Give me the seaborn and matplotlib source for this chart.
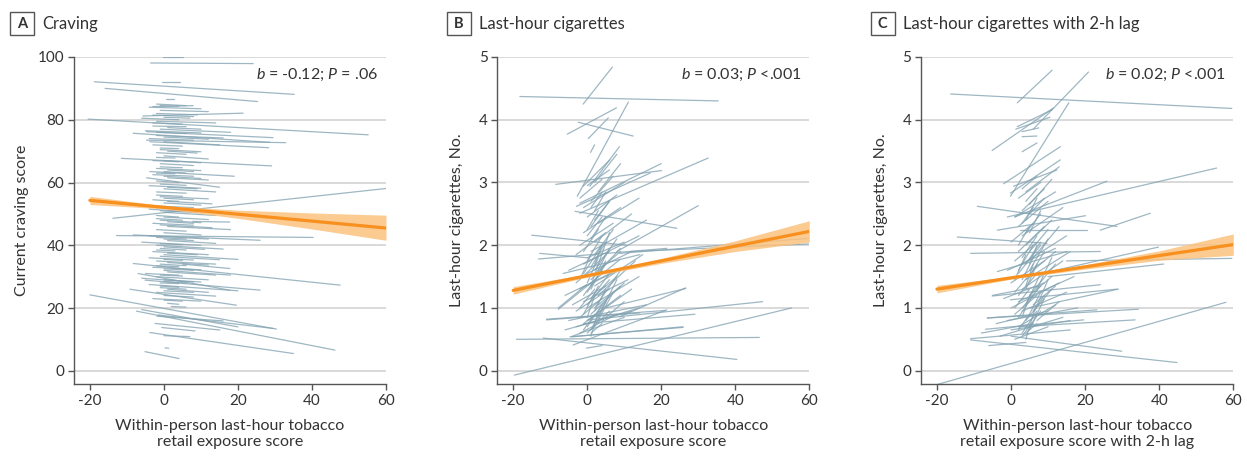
import pandas as pd
import seaborn as sns
import matplotlib.pyplot as plt
from matplotlib.patches import Rectangle

# person-level fitted segments: (x start, y start, x end, y end)
segs_craving = [
    (-0.3, 100, 5.1, 100), (-3.6, 98.1, 24.1, 97.9), (-18.8, 92.1, 35.2, 88.1),
    (-15.9, 90.0, 25.3, 85.8), (-0.6, 92.1, 4.3, 92.1), (0.5, 86.6, 2.6, 86.6),
    (-3.0, 84.2, 7.9, 84.5), (-20.5, 80.2, 55.2, 75.2), (-5.7, 81.2, 21.4, 82.1),
    (-4.7, 76.2, 29.5, 74.3), (-8.3, 75.7, 28.6, 72.8), (-4.7, 73.5, 32.9, 72.7),
    (-3.8, 73.0, 28.3, 71.1), (-11.5, 67.7, 29.1, 65.3), (-3.8, 63.5, 19.0, 62.0),
    (-4.7, 61.5, 15.0, 58.5), (-13.8, 48.6, 60.0, 58.1), (-12.8, 43.1, 40.3, 42.5),
    (-8.3, 43.3, 26.0, 41.6), (-8.3, 34.2, 47.6, 27.3), (-7.0, 31.0, 17.8, 25.7),
    (-9.2, 26.0, 19.6, 20.9), (-5.1, 28.9, 26.0, 25.7), (-20.0, 24.2, 30.4, 13.3),
    (-7.4, 19.0, 46.2, 6.6), (-1.5, 17.8, 29.5, 13.5), (-6.0, 19.5, 20.0, 14.0),
    (-1.9, 17.4, 16.0, 15.9), (-2.4, 15.1, 15.1, 13.0), (-0.6, 13.8, 8.4, 12.7),
    (0.0, 11.2, 7.0, 10.9), (-3.8, 12.2, 35.0, 5.5), (-5.1, 6.1, 4.1, 3.9),
    (0.3, 7.3, 1.3, 7.2), (7.8, 47.6, 17.8, 47.4), (5.0, 34.0, 17.8, 32.6),
    (-2, 85, 6, 84.5), (-4, 84, 10, 83.5), (-1, 83, 12, 82.6), (-3, 81.5, 8, 81),
    (-6, 80.5, 4, 80), (-2, 79.5, 14, 79), (-3, 78, 6, 77.8), (-1, 77, 18, 76),
    (-5, 76.5, 10, 75.8), (-2, 75, 16, 74.2), (-4, 74, 8, 73.5), (0, 73, 15, 72),
    (-3, 72, 5, 71.6), (-1, 70.5, 10, 69.8), (-2, 69.5, 6, 69), (0, 68.5, 12, 67.5),
    (-3, 67, 4, 66.6), (-1, 66, 8, 65.4), (-2, 64.5, 10, 63.8), (0, 63.5, 6, 63),
    (-3, 62.5, 8, 62), (1, 61.5, 12, 60.8), (-2, 60.5, 4, 60), (-4, 59, 10, 58.2),
    (0, 58, 14, 57), (-2, 57, 6, 56.6), (-1, 55.5, 12, 54.8), (-3, 54.5, 4, 54),
    (0, 53.5, 10, 52.8), (-2, 52.5, 8, 52), (-4, 51.5, 6, 50.8), (0, 50.5, 14, 49.5),
    (-2, 49.5, 4, 49), (-1, 48, 10, 47.2), (-3, 47, 8, 46.4), (1, 46, 18, 45),
    (-2, 45, 6, 44.5), (-4, 43, 12, 42), (0, 42, 8, 41.5), (-6, 41, 10, 40),
    (-2, 40, 16, 38.8), (-1, 39, 6, 38.5), (-3, 38, 12, 37), (0, 37, 20, 35.5),
    (-4, 36, 8, 35.3), (-2, 35, 14, 34), (-1, 34, 6, 33.5), (-3, 33, 10, 32.2),
    (0, 32, 18, 30.5), (-5, 31, 4, 30.5), (-2, 30, 12, 29), (-6, 29.5, 8, 28.3),
    (0, 28.5, 6, 28), (-4, 27.5, 20, 25.5), (-1, 27, 4, 26.6), (-2, 25, 14, 23.8),
    (0, 24, 8, 23.5), (-3, 23, 10, 22.2), (1, 21.5, 4, 21.2), (2, 20.5, 6, 20.3),
    (-1, 84.5, 4, 84.3), (-2, 82, 9, 81.6), (0, 80.8, 7, 80.5), (-3, 79, 5, 78.6),
    (1, 77.5, 10, 77), (-2, 76, 6, 75.6), (0, 74.5, 12, 73.8), (-1, 71, 4, 70.8),
    (1, 70, 9, 69.4), (-2, 68, 3, 67.8), (0, 67, 10, 66.3), (-1, 65, 5, 64.7),
    (1, 64, 8, 63.5), (-2, 63, 3, 62.8), (0, 62, 10, 61.3), (-1, 59.5, 6, 59.1),
    (1, 58.5, 9, 58), (-2, 56, 5, 55.6), (0, 55, 8, 54.5), (1, 54, 13, 53.2),
    (-1, 51, 9, 50.4), (0, 49, 12, 48.2), (-2, 48.5, 5, 48), (1, 47.5, 8, 47),
    (-1, 46.5, 13, 45.6), (0, 44, 10, 43.3), (-2, 42.5, 6, 42), (1, 41.5, 14, 40.6),
    (-1, 40.5, 5, 40.2), (0, 39.5, 11, 38.7), (-2, 38.5, 3, 38.2), (1, 37.5, 9, 37),
    (-1, 36.5, 15, 35.4), (0, 35.5, 5, 35.2), (1, 34.5, 12, 33.7), (-2, 33.5, 4, 33.2),
    (0, 32.5, 8, 32), (1, 31.5, 14, 30.5), (-1, 30.5, 5, 30.2), (0, 29, 10, 28.3),
    (-1, 28, 4, 27.8), (1, 26, 12, 25), (-1, 26.5, 6, 26), (0, 25.5, 8, 25),
    (0, 22.5, 5, 22.2),
]

segs_cigs = [
    (-18.2, 4.37, 35.4, 4.30), (-1.1, 4.25, 6.8, 4.84), (-2.7, 2.78, 11.1, 4.28),
    (-5.4, 3.77, 7.9, 4.19), (-2.4, 3.96, 12.4, 3.74), (0.3, 3.70, 5.7, 4.03),
    (0.9, 3.48, 2.0, 3.60), (0.7, 2.94, 8.7, 3.57), (-8.5, 2.97, 20.1, 3.19),
    (-2.0, 2.51, 32.7, 3.39), (-2.9, 2.62, 17.0, 3.15), (8.0, 1.90, 30.0, 2.63),
    (-3.3, 2.54, 24.2, 2.27), (-1.1, 2.94, 6.1, 3.36), (-2.0, 2.67, 20.0, 3.30),
    (-19.7, -0.07, 55.2, 1.00), (-19.1, 0.50, 46.5, 0.53), (0.3, 0.81, 47.4, 1.10),
    (-11.9, 0.52, 40.4, 0.18), (-15.0, 2.16, 10.6, 2.00), (-13.2, 1.78, 21.5, 1.95),
    (8.8, 0.86, 26.6, 1.32), (-4.7, 0.54, 25.9, 0.69), (-7.8, 0.98, 8.8, 1.77),
    (-11.0, 0.82, 21.0, 0.96), (-1.0, 0.75, 29.1, 0.90), (8.8, 1.87, 60.0, 2.11),
    (12.0, 1.90, 60.0, 2.02), (-11.0, 0.81, 14.2, 0.92), (-7.8, 1.00, -0.2, 1.37),
    (-6.5, 1.55, 14.2, 1.85), (-3.8, 0.41, 21.5, 0.97), (-0.2, 0.36, 4.0, 0.40),
    (-4.2, 0.54, 25.9, 0.70), (5.0, 1.00, 26.6, 1.31), (-12.8, 1.87, 0.0, 1.80),
    (-4, 0.55, 10, 0.85), (-2, 0.6, 8, 0.9), (-6, 0.65, 12, 0.95), (0, 0.6, 6, 0.95),
    (-3, 0.7, 14, 1.0), (1, 0.65, 5, 1.1), (-1, 0.75, 9, 1.2), (-5, 0.8, 16, 1.05),
    (2, 0.7, 7, 1.25), (0, 0.8, 12, 1.3), (-2, 0.85, 4, 1.15), (1, 0.9, 10, 1.4),
    (-3, 0.95, 6, 1.3), (3, 0.85, 8, 1.45), (0, 1.0, 14, 1.5), (-4, 1.05, 5, 1.35),
    (2, 1.0, 9, 1.6), (-1, 1.1, 11, 1.45), (1, 1.15, 6, 1.55), (-6, 1.2, 8, 1.6),
    (3, 1.2, 13, 1.75), (0, 1.25, 5, 1.7), (-2, 1.3, 10, 1.65), (2, 1.35, 15, 1.85),
    (-3, 1.4, 6, 1.9), (1, 1.45, 9, 1.95), (0, 1.55, 12, 1.9), (-5, 1.6, 4, 1.85),
    (2, 1.6, 8, 2.1), (-1, 1.7, 14, 2.15), (3, 1.7, 6, 2.2), (0, 1.8, 10, 2.05),
    (-3, 1.85, 5, 2.2), (1, 1.9, 16, 2.4), (-2, 2.0, 7, 2.35), (2, 2.05, 12, 2.5),
    (0, 2.15, 4, 2.45), (-1, 2.2, 9, 2.6), (1, 2.3, 6, 2.7), (3, 2.35, 14, 2.75),
    (0, 2.45, 8, 2.8), (2, 2.55, 5, 2.85), (-1, 2.6, 10, 3.0), (1, 2.7, 7, 3.1),
    (3, 2.85, 9, 3.3), (0, 2.95, 6, 3.2), (2, 3.0, 8, 3.45), (-2, 2.75, 4, 3.05),
    (0, 0.7, 4, 1.05), (1, 0.55, 3, 0.95), (-1, 0.9, 3, 1.35), (0, 1.05, 6, 1.45),
    (2, 0.95, 5, 1.3), (-1, 1.2, 4, 1.6), (1, 1.3, 5, 1.75), (0, 1.4, 3, 1.8),
    (2, 1.5, 6, 1.95), (-1, 1.55, 4, 2.0), (1, 1.65, 5, 2.05), (0, 1.75, 4, 2.15),
    (2, 1.85, 7, 2.25), (-1, 1.9, 3, 2.25), (1, 2.1, 5, 2.45), (0, 2.25, 3, 2.55),
    (2, 2.4, 6, 2.7), (1, 2.6, 4, 2.85), (3, 1.05, 9, 1.35), (4, 0.8, 10, 1.1),
    (2, 1.2, 8, 1.5), (-2, 1.0, 2, 1.3), (3, 1.6, 9, 1.9), (-2, 1.45, 1, 1.85),
    (1, 0.6, 4, 0.75), (0, 0.85, 2, 1.2), (3, 0.95, 6, 1.2), (1, 1.35, 3, 1.7),
    (-1, 0.65, 2, 0.9), (2, 1.7, 4, 2.0),
]

segs_lag = [
    (-16.3, 4.41, 59.6, 4.18), (1.7, 4.27, 11.1, 4.79), (-5.1, 3.51, 11.5, 4.19),
    (6.0, 3.85, 20.9, 4.76), (-0.15, 2.78, 15.6, 4.27), (-1.0, 2.45, 55.5, 3.23),
    (-9.1, 2.62, 28.6, 2.30), (1.0, 2.45, 25.9, 3.02), (24.1, 2.24, 37.6, 2.51),
    (-3.7, 2.24, 20.1, 2.47), (-19.9, -0.22, 58.0, 1.09), (-10.9, 0.49, 44.8, 0.13),
    (-14.5, 2.13, 9.7, 2.03), (-10.9, 1.87, 24.1, 1.90), (15.0, 1.75, 59.6, 1.79),
    (10.0, 1.50, 41.2, 1.70), (12.0, 1.60, 39.8, 1.97), (-6.4, 0.84, 34.4, 0.98),
    (2.0, 0.70, 33.5, 0.81), (0.0, 0.55, 29.9, 0.31), (5.0, 1.00, 29.0, 1.30),
    (3.0, 3.73, 7.0, 3.74), (3.0, 3.81, 7.5, 3.87), (3.0, 3.49, 7.0, 3.63),
    (1.7, 3.89, 11.1, 4.16), (1.3, 3.85, 10.5, 4.04), (-2.0, 2.98, 13.3, 3.57),
    (-0.15, 2.83, 13.3, 3.36), (0.7, 2.94, 12.4, 3.20), (-3.7, 1.58, 15.1, 1.90),
    (-5.1, 1.19, 24.1, 1.37), (-10.9, 0.51, 16.0, 0.65), (-6.9, 0.66, 19.6, 0.81),
    (-6.4, 0.84, 23.2, 0.97), (-0.15, 1.13, 28.6, 1.30), (2.5, 2.24, 20.5, 2.24),
    (1, 0.5, 10, 0.7), (-3, 0.55, 14, 0.85), (3, 0.55, 8, 0.95), (0, 0.65, 16, 0.8),
    (2, 0.7, 12, 1.05), (5, 0.65, 9, 1.15), (-1, 0.8, 18, 1.0), (4, 0.8, 11, 1.3),
    (1, 0.9, 7, 1.2), (3, 0.95, 15, 1.25), (6, 0.9, 10, 1.45), (0, 1.0, 13, 1.4),
    (4, 1.05, 8, 1.55), (2, 1.1, 17, 1.5), (-2, 1.15, 9, 1.4), (5, 1.2, 12, 1.7),
    (1, 1.25, 6, 1.6), (3, 1.3, 14, 1.75), (7, 1.3, 11, 1.8), (0, 1.4, 9, 1.75),
    (4, 1.45, 16, 1.9), (2, 1.55, 8, 2.0), (-1, 1.6, 12, 1.95), (5, 1.6, 10, 2.1),
    (3, 1.7, 15, 2.15), (1, 1.75, 7, 2.05), (6, 1.8, 13, 2.3), (2, 1.9, 9, 2.3),
    (4, 2.0, 11, 2.4), (0, 2.05, 6, 2.35), (3, 2.15, 14, 2.6), (5, 2.2, 8, 2.55),
    (2, 2.3, 10, 2.7), (4, 2.4, 7, 2.75), (1, 2.45, 12, 2.85), (3, 2.55, 9, 2.9),
    (5, 2.65, 11, 3.05), (2, 2.75, 8, 3.0), (4, 2.85, 13, 3.25), (3, 2.9, 7, 3.1),
    (-5, 1.2, 8, 1.35), (-4, 0.75, 10, 0.95), (-8, 0.6, 6, 0.75), (-6, 0.4, 4, 0.45),
    (3, 0.6, 7, 0.95), (4, 0.5, 6, 0.9), (2, 0.85, 6, 1.2), (3, 1.0, 8, 1.35),
    (5, 0.9, 8, 1.25), (2, 1.2, 7, 1.55), (4, 1.3, 7, 1.7), (3, 1.45, 6, 1.8),
    (5, 1.5, 9, 1.9), (2, 1.6, 6, 2.0), (4, 1.7, 8, 2.05), (3, 1.8, 7, 2.15),
    (5, 1.9, 10, 2.25), (2, 2.0, 5, 2.3), (4, 2.2, 8, 2.5), (3, 2.35, 6, 2.6),
    (5, 2.5, 9, 2.75), (4, 2.7, 7, 2.9), (6, 1.05, 12, 1.35), (7, 0.8, 13, 1.1),
    (5, 1.2, 11, 1.5), (1, 1.0, 5, 1.3), (6, 1.6, 12, 1.9), (1, 1.45, 4, 1.85),
    (4, 0.6, 7, 0.75), (3, 0.85, 5, 1.2), (6, 0.95, 9, 1.2), (4, 1.35, 6, 1.7),
    (2, 0.65, 5, 0.9), (5, 1.7, 7, 2.0),
]

# pooled fit with 95% band
fit_x = [-20, 0, 20, 40, 60]
fit_craving = [54.3, 52.1, 49.9, 47.7, 45.5]
lo_craving = [53.0, 51.6, 48.6, 45.2, 41.6]
hi_craving = [55.6, 52.6, 51.2, 50.3, 49.6]
fit_cigs = [1.28, 1.515, 1.75, 1.985, 2.22]
lo_cigs = [1.22, 1.49, 1.71, 1.90, 2.05]
hi_cigs = [1.34, 1.54, 1.79, 2.07, 2.39]
fit_lag = [1.30, 1.48, 1.655, 1.835, 2.01]
lo_lag = [1.24, 1.46, 1.62, 1.76, 1.84]
hi_lag = [1.36, 1.50, 1.69, 1.91, 2.18]

letters = ["A", "B", "C"]
titles = ["Craving", "Last-hour cigarettes", "Last-hour cigarettes with 2-h lag"]
ylabels = ["Current craving score", "Last-hour cigarettes, No.", "Last-hour cigarettes, No."]
xlabels = ["Within-person last-hour tobacco\nretail exposure score",
           "Within-person last-hour tobacco\nretail exposure score",
           "Within-person last-hour tobacco\nretail exposure score with 2-h lag"]
stats = [r"$b$ = -0.12; $P$ = .06", r"$b$ = 0.03; $P$ <.001", r"$b$ = 0.02; $P$ <.001"]
xticks = [-20, 0, 20, 40, 60]
yticks = [[0, 20, 40, 60, 80, 100], [0, 1, 2, 3, 4, 5], [0, 1, 2, 3, 4, 5]]

sns.set_style("white")
plt.rcParams["font.family"] = ["Lato", "DejaVu Sans"]
plt.rcParams["mathtext.fontset"] = "custom"
plt.rcParams["mathtext.it"] = "Lato:italic"
plt.rcParams["mathtext.rm"] = "Lato"
plt.rcParams["axes.unicode_minus"] = False

seg_color = "#83a3b2"
orange = "#f7901e"
band = "#fbc27f"
dark = "#333333"

fig = plt.figure(figsize=(12.47, 4.58), dpi=100)
W, H = 1247, 458
panels = [
    (74, 386, segs_craving, fit_craving, lo_craving, hi_craving, (-4.3, 100), -0.145, 10, 42),
    (497.3, 809.3, segs_cigs, fit_cigs, lo_cigs, hi_cigs, (-0.217, 5), -0.108, 446.7, 479.3),
    (921, 1233.3, segs_lag, fit_lag, lo_lag, hi_lag, (-0.217, 5), -0.105, 870.7, 903.3),
]

for i, (left, right, segs, fit, lo, hi, ylim, ylab_x, box_x, title_x) in enumerate(panels):
    ax = fig.add_axes([left / W, (H - 384.3) / H, (right - left) / W, (384.3 - 57) / H])

    rows = []
    for k, (x0, y0, x1, y1) in enumerate(segs):
        rows.append({"seg": k, "x": x0, "y": y0})
        rows.append({"seg": k, "x": x1, "y": y1})
    df = pd.DataFrame(rows)
    sns.lineplot(data=df, x="x", y="y", units="seg", estimator=None, color=seg_color,
                 lw=0.9, alpha=0.78, ax=ax, zorder=2)

    ax.fill_between(fit_x, lo, hi, color=band, alpha=0.85, lw=0, zorder=3)
    sns.lineplot(x=fit_x, y=fit, color=orange, lw=2.3, ax=ax, zorder=4)

    ax.set_xlim(-24.3, 60)
    ax.set_ylim(*ylim)
    ax.set_xticks(xticks)
    ax.set_yticks(yticks[i])
    ax.yaxis.grid(True, color="#d9d9d9", lw=1.4)
    ax.set_axisbelow(True)
    for s in ["top", "right"]:
        ax.spines[s].set_visible(False)
    for s in ["left", "bottom"]:
        ax.spines[s].set_color("#555555")
        ax.spines[s].set_linewidth(1.0)
    ax.tick_params(axis="both", length=4, width=1, color="#555555", pad=3,
                   labelsize=11, labelcolor=dark, left=True, bottom=True)

    ax.set_xlabel(xlabels[i], fontsize=11.5, color=dark, labelpad=8, linespacing=1.15)
    ax.set_ylabel(ylabels[i], fontsize=11.5, color=dark)
    ax.yaxis.set_label_coords(ylab_x, 0.5)

    ax.text(0.975, 0.945, stats[i], transform=ax.transAxes, ha="right", va="center",
            fontsize=11.5, color=dark)

    fig.patches.append(Rectangle((box_x / W, (H - 35) / H), 24 / W, 23 / H,
                                 transform=fig.transFigure, fc="white", ec="#555555", lw=1))
    fig.text((box_x + 12) / W, (H - 23.5) / H, letters[i], ha="center", va="center",
             fontsize=10.5, fontweight="bold", color=dark)
    fig.text(title_x / W, (H - 23.5) / H, titles[i], ha="left", va="center",
             fontsize=12, color=dark)

fig.savefig("out.png", dpi=100)
